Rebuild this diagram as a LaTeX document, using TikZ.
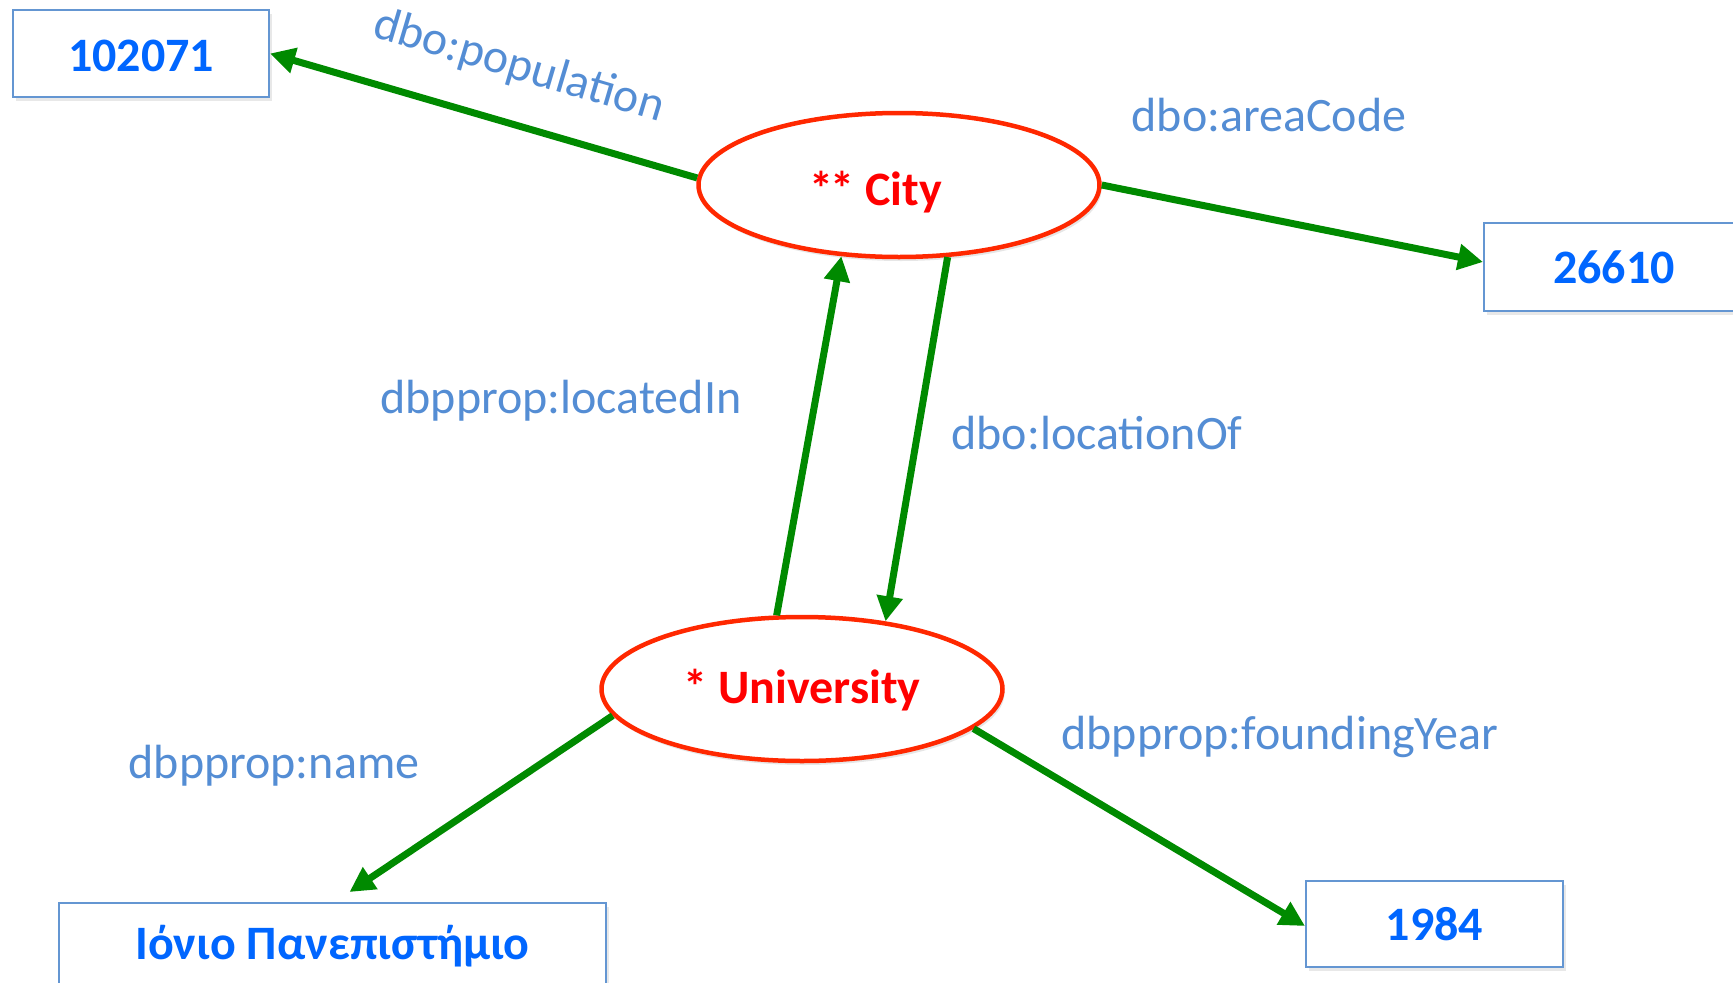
\documentclass[tikz,border=0pt]{standalone}
\usepackage{fontspec}
\setmainfont{Carlito}
\usetikzlibrary{arrows.meta,shapes.geometric,shadows,calc}
\definecolor{arrowgreen}{RGB}{0,138,0}
\definecolor{ellred}{RGB}{255,40,0}
\definecolor{txtred}{RGB}{255,0,0}
\definecolor{valblue}{RGB}{0,102,255}
\definecolor{lblblue}{RGB}{84,141,212}
\definecolor{boxblue}{RGB}{100,150,210}
\newcommand{\lowerby}[2]{\raisebox{-#1}[\height][\depth]{#2}}
\tikzset{
  valbox/.style={draw=boxblue, line width=2pt, fill=white, inner sep=0pt,
    minimum height=87pt, font=\fontsize{48}{52}\selectfont\bfseries, text=valblue,
    drop shadow={opacity=0.18, shadow xshift=3pt, shadow yshift=-4pt}},
  resource/.style={ellipse, draw=ellred, line width=4.5pt, fill=white, inner sep=0pt,
    minimum width=401pt, minimum height=144pt, font=\fontsize{48}{52}\selectfont\bfseries, text=txtred,
    drop shadow={opacity=0.2, shadow xshift=2pt, shadow yshift=-4pt}},
  prop/.style={font=\fontsize{48}{52}\selectfont, text=lblblue, inner sep=0pt},
  rel/.style={draw=arrowgreen, line width=7pt, -{Triangle[length=25pt,width=25pt]}}
}
\begin{document}
\begin{tikzpicture}[x=1pt,y=-1pt]
\useasboundingbox (0,0) rectangle (1733,983);
\node[resource] (city) at (899,185) {\lowerby{7pt}{\hspace*{-46pt}*\kern-3pt* City}};
\node[resource] (uni) at (802,689) {\lowerby{1pt}{* University}};
\node[valbox, minimum width=256pt] (pop) at (141,53.5) {\lowerby{2pt}{102071}};
\node[valbox, minimum width=260pt, minimum height=88pt] (area) at (1614,267) {26610};
\node[valbox, minimum width=547pt, minimum height=86pt] (name) at (332.5,946) {Ιόνιο Πανεπιστήμιο};
\node[valbox, minimum width=257pt, minimum height=86pt] (year) at (1434.5,924) {1984};

\draw[rel] (city.178) -- (pop.east);
\draw[rel] (city.east) -- ($(area.west)+(0,-5)$);
\draw[rel] (uni.109) -- (city.231);
\draw[rel] (city.304) -- (uni.39);
\draw[rel] (uni.188) -- ($(name.north)+(17,-10)$);
\draw[rel] (uni.347) -- ($(year.west)+(0,2)$);

\node[prop, rotate=-16.5] (lpop) at (519,67) {dbo:population};
\node[prop] (larea) at (1269,115) {dbo:areaCode};
\node[prop] (lloc) at (561,401) {dbpprop:locatedIn};
\node[prop] (llocof) at (1097,433) {dbo:locationOf};
\node[prop] (lname) at (274,766) {dbpprop:name};
\node[prop] (lyear) at (1280,737) {dbpprop:foundingYear};
\end{tikzpicture}
\end{document}
